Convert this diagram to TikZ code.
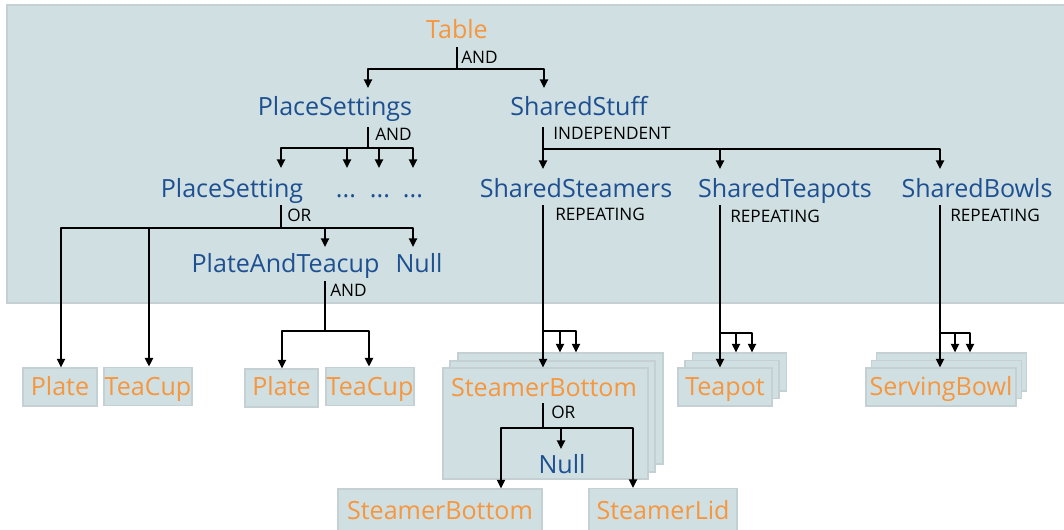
\documentclass[tikz,border=0pt]{standalone}
\usepackage{fontspec}
\setmainfont{Open Sans}
\usetikzlibrary{arrows.meta}
\definecolor{panel}{RGB}{207,223,226}
\definecolor{edge}{RGB}{196,208,212}
\definecolor{nodeblue}{RGB}{30,80,145}
\definecolor{leaforange}{RGB}{247,150,60}
\begin{document}
\begin{tikzpicture}[x=0.75pt,y=-0.75pt,
  group/.style={text=nodeblue, font=\fontsize{18.8}{22}\selectfont, inner sep=0, anchor=base},
  leaf/.style={text=leaforange, font=\fontsize{18.8}{22}\selectfont, inner sep=0, anchor=base},
  op/.style={text=black, font=\fontsize{12.9}{15}\selectfont, inner sep=0, anchor=base west},
  box/.style={fill=panel, draw=edge, line width=0.8pt, inner sep=0},
  wire/.style={line width=2pt, line join=round},
  link/.style={wire, -{Triangle[length=6.5pt,width=6pt]}}
]
\useasboundingbox (0,0) rectangle (1064,529);

% shared background panel
\draw[box] (7,5) rectangle (1068,303);

% leaf boxes
\node[box, minimum width=55.5pt, minimum height=28.5pt] (plateA) at (60,387) {};
\node[box, minimum width=66pt, minimum height=29pt] (cupA) at (148,386.5) {};
\node[box, minimum width=54.75pt, minimum height=28.5pt] (plateB) at (281.5,388) {};
\node[box, minimum width=66pt, minimum height=29pt] (cupB) at (370,386.5) {};

% stacked (repeating) boxes
\node[box, minimum width=153.75pt, minimum height=83.25pt] (stBack) at (560.5,408.5) {};
\node[box, minimum width=153.75pt, minimum height=83.25pt] (stMid) at (552.5,416.5) {};
\node[box, minimum width=153.75pt, minimum height=83.25pt] (stFront) at (545.5,423.5) {};

\node[box, minimum width=70.5pt, minimum height=28.5pt] (tpBack) at (739.5,372) {};
\node[box, minimum width=70.5pt, minimum height=28.5pt] (tpMid) at (732,379.5) {};
\node[box, minimum width=70.5pt, minimum height=28.5pt] (tpFront) at (725,387) {};

\node[box, minimum width=112.5pt, minimum height=28.5pt] (bwBack) at (951.5,372) {};
\node[box, minimum width=112.5pt, minimum height=28.5pt] (bwMid) at (946.5,379.5) {};
\node[box, minimum width=112.5pt, minimum height=28.5pt] (bwFront) at (941,387) {};

\node[box, minimum width=153pt, minimum height=31.5pt] (sbLeaf) at (440,510) {};
\node[box, minimum width=111pt, minimum height=31.5pt] (lidLeaf) at (663,509.5) {};

% texts
\node[leaf] (table) at (457,38) {Table};
\node[group] (ps) at (335,115) {PlaceSettings};
\node[group] (ss) at (579,115) {SharedStuff};
\node[group] (pset) at (232,197) {PlaceSetting};
\node[group] (dotsA) at (346,197) {...};
\node[group] (dotsB) at (380,197) {...};
\node[group] (dotsC) at (413,197) {...};
\node[group] (steamers) at (576,197) {SharedSteamers};
\node[group] (teapots) at (785,197) {SharedTeapots};
\node[group] (bowls) at (977,197) {SharedBowls};
\node[group] (pt) at (285.5,272) {PlateAndTeacup};
\node[group] (nullA) at (419,272) {Null};
\node[leaf] at (60,395) {Plate};
\node[leaf] at (148,395) {TeaCup};
\node[leaf] at (281.5,395) {Plate};
\node[leaf] at (370,395) {TeaCup};
\node[leaf] (sbottom) at (544,396) {SteamerBottom};
\node[group] (nullB) at (562,473) {Null};
\node[leaf] at (725,395) {Teapot};
\node[leaf] at (941,395) {ServingBowl};
\node[leaf] at (440,519) {SteamerBottom};
\node[leaf] at (663,519) {SteamerLid};

% operator labels
\node[op] at (461,63) {AND};
\node[op] at (375,140) {AND};
\node[op] at (553,139) {INDEPENDENT};
\node[op] at (287,221) {OR};
\node[op] at (555,220) {REPEATING};
\node[op] at (730,222.5) {REPEATING};
\node[op] at (950,221) {REPEATING};
\node[op] at (330,296) {AND};
\node[op] at (551,418) {OR};

% junction points
\coordinate (tabTop) at (457,47);   \coordinate (tabFork) at (457,69);
\coordinate (psIn) at (368,88);     \coordinate (ssIn) at (544,88);
\coordinate (psTop) at (368,127);   \coordinate (psFork) at (368,148);
\coordinate (psetIn) at (281,168);  \coordinate (dotsAIn) at (347,168);
\coordinate (dotsBIn) at (379,168); \coordinate (dotsCIn) at (413,168);
\coordinate (ssTop) at (543,127);   \coordinate (ssFork) at (543,149);
\coordinate (steamIn) at (543,169); \coordinate (teaIn) at (720,169);
\coordinate (bowlIn) at (940,169);
\coordinate (psetTop) at (281,205); \coordinate (psetFork) at (281,228);
\coordinate (ptIn) at (325,247);    \coordinate (nullAIn) at (413,247);
\coordinate (ptTop) at (325,281);   \coordinate (ptFork) at (325,331);
\coordinate (stTop) at (543,205);   \coordinate (stFork) at (543,331);
\coordinate (tpTop) at (720,205);   \coordinate (tpFork) at (720,333);
\coordinate (bwTop) at (940,205);   \coordinate (bwFork) at (940,333);
\coordinate (sbTop) at (543,403);   \coordinate (sbFork) at (543,428);
\coordinate (nullBIn) at (561,449);

% connectors
\draw[link] (tabTop) -- (tabFork) -| (psIn);
\draw[link] (tabFork) -| (ssIn);

\draw[link] (psTop) -- (psFork) -| (psetIn);
\draw[link] (psFork) -| (dotsAIn);
\draw[link] (psFork) -| (dotsBIn);
\draw[link] (psFork) -| (dotsCIn);

\draw[link] (ssTop) -- (steamIn);
\draw[link] (ssFork) -| (teaIn);
\draw[link] (ssFork) -| (bowlIn);

\draw[link] (psetTop) -- (psetFork) -| (plateA.north -| 61,0);
\draw[link] (psetFork) -| (cupA.north -| 149,0);
\draw[link] (psetFork) -| (ptIn);
\draw[link] (psetFork) -| (nullAIn);

\draw[link] (ptTop) -- (ptFork) -| (plateB.north -| 282,0);
\draw[link] (ptFork) -| (cupB.north -| 369,0);

\draw[link] (stTop) -- (stFront.north -| 543,0);
\draw[link] (stFork) -| (stBack.north -| 560,0);
\draw[link] (stFork) -| (stBack.north -| 576,0);

\draw[link] (tpTop) -- (tpFront.north -| 720,0);
\draw[link] (tpFork) -| (tpBack.north -| 736,0);
\draw[link] (tpFork) -| (tpBack.north -| 752,0);

\draw[link] (bwTop) -- (bwFront.north -| 940,0);
\draw[link] (bwFork) -| (bwBack.north -| 955,0);
\draw[link] (bwFork) -| (bwBack.north -| 970,0);

\draw[link] (sbTop) -- (sbFork) -| (sbLeaf.north -| 501,0);
\draw[link] (sbFork) -| (nullBIn);
\draw[link] (sbFork) -| (lidLeaf.north -| 633,0);
\end{tikzpicture}
\end{document}
